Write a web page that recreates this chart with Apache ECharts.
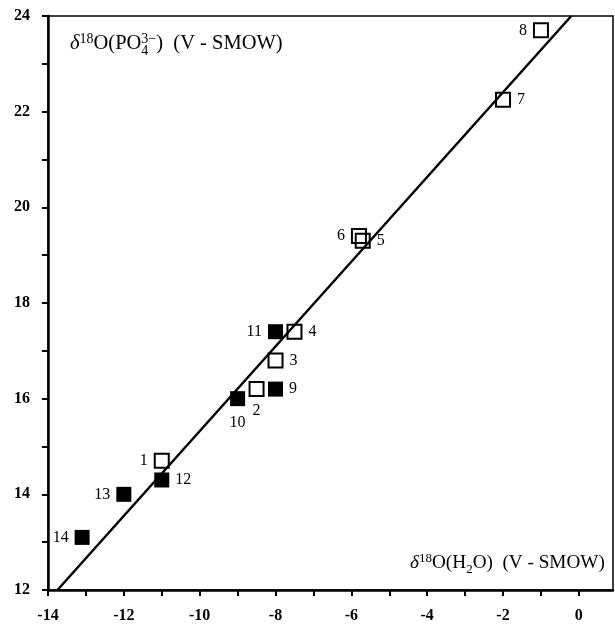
<!DOCTYPE html>
<html>
<head>
<meta charset="utf-8">
<script src="https://cdn.jsdelivr.net/npm/echarts@6/dist/echarts.min.js"></script>
<style>
html,body{margin:0;padding:0;background:#fff;}
#chart{width:615px;height:633px;}
</style>
</head>
<body>
<div id="chart"></div>
<script>
// ---- data ----
var openIds = [1, 2, 3, 4, 5, 6, 7, 8];
var openX   = [-11, -8.5, -8, -7.5, -5.7, -5.8, -2, -1];
var openY   = [14.7, 16.2, 16.8, 17.4, 19.3, 19.4, 22.25, 23.7];

var filledIds = [9, 10, 11, 12, 13, 14];
var filledX   = [-8, -9, -8, -11, -12, -13.1];
var filledY   = [16.2, 16.0, 17.4, 14.3, 14.0, 13.1];

var fitLineX = [-13.75, -0.2];
var fitLineY = [12, 24];

var xTicks = [-14, -12, -10, -8, -6, -4, -2, 0];
var yTicks = [12, 14, 16, 18, 20, 22, 24];

// label side per point id (layout only)
var labelSide = {1:'left',2:'bottom',3:'right',4:'right',5:'right',6:'left',7:'right',8:'left',
                 9:'right',10:'bottom',11:'left',12:'right',13:'left',14:'left'};
var labelDist = {2:6,10:9};

var FONT = '"Liberation Serif", "Times New Roman", serif';

function pts(ids, xs, ys) {
  return ids.map(function (id, i) {
    var side = labelSide[id];
    return {
      value: [xs[i], ys[i]],
      name: String(id),
      label: { position: side, distance: labelDist[id] || 6 }
    };
  });
}

var chart = echarts.init(document.getElementById('chart'));

var grid = { left: 48, right: 2, top: 16, bottom: 43 };

// ---- rich title builder ----
var ctx = document.createElement('canvas').getContext('2d');
function measure(t, size, italic) {
  ctx.font = (italic ? 'italic ' : '') + size + 'px ' + FONT;
  return ctx.measureText(t).width;
}
function buildTitle(pieces, left, baseline, targetW) {
  function layout(S) {
    var s = Math.round(S * 0.66);
    var x = 0, out = [];
    pieces.forEach(function (p) {
      var size = p.small ? s : S;
      var w = measure(p.t, size, p.italic);
      var dy = p.shift === 'sup' ? -S * 0.38 : (p.shift === 'sub' ? S * 0.22 : 0);
      out.push({ t: p.t, x: x, size: size, italic: p.italic, dy: dy });
      if (!p.noAdvance) x += w;
    });
    return { items: out, width: x };
  }
  var S = 18;
  var L = layout(S);
  S = S * targetW / L.width;
  L = layout(S);
  return L.items.map(function (it) {
    return {
      type: 'text',
      x: left + it.x,
      y: baseline + it.dy,
      style: {
        text: it.t,
        font: (it.italic ? 'italic ' : '') + it.size.toFixed(1) + 'px ' + FONT,
        fill: '#000',
        textAlign: 'left',
        textVerticalAlign: 'bottom'
      },
      z: 10
    };
  });
}

var topTitle = buildTitle([
  { t: 'δ', italic: true },
  { t: '18', small: true, shift: 'sup' },
  { t: 'O(PO' },
  { t: '4', small: true, shift: 'sub', noAdvance: true },
  { t: '3', small: true, shift: 'sup' },
  { t: '\u2212', small: true, shift: 'sup' },
  { t: ')  (V - SMOW)' }
], 70, 54, 212);

var bottomTitle = buildTitle([
  { t: 'δ', italic: true },
  { t: '18', small: true, shift: 'sup' },
  { t: 'O(H' },
  { t: '2', small: true, shift: 'sub' },
  { t: 'O)  (V - SMOW)' }
], 410, 572, 195);

var tickLabelStyle = { fontFamily: FONT, fontSize: 16, fontWeight: 'bold', color: '#000' };

var option = {
  animation: false,
  backgroundColor: '#fff',
  grid: Object.assign({ show: true, borderColor: '#000', borderWidth: 1.5, backgroundColor: 'transparent' }, grid),
  xAxis: {
    type: 'value', min: -14, max: 0.9, interval: 1,
    axisLine: { show: true, onZero: false, lineStyle: { color: '#000', width: 2.5 } },
    axisTick: { show: true, inside: false, length: 6, lineStyle: { color: '#000', width: 2 } },
    axisLabel: Object.assign({
      margin: 18, showMaxLabel: false,
      formatter: function (v) { return xTicks.indexOf(v) >= 0 ? String(v) : ''; }
    }, tickLabelStyle),
    splitLine: { show: false }
  },
  yAxis: {
    type: 'value', min: 12, max: 24, interval: 1,
    axisLine: { show: true, onZero: false, lineStyle: { color: '#000', width: 2.5 } },
    axisTick: { show: true, inside: false, length: 6, lineStyle: { color: '#000', width: 2 } },
    axisLabel: Object.assign({
      margin: 18,
      formatter: function (v) { return yTicks.indexOf(v) >= 0 ? String(v) : ''; }
    }, tickLabelStyle),
    splitLine: { show: false }
  },
  series: [
    {
      type: 'line',
      data: fitLineX.map(function (x, i) { return [x, fitLineY[i]]; }),
      symbol: 'none',
      lineStyle: { color: '#000', width: 2.5 },
      z: 2,
      silent: true
    },
    {
      type: 'scatter',
      data: pts(openIds, openX, openY),
      symbol: 'rect',
      symbolSize: 14,
      itemStyle: { color: 'rgba(0,0,0,0)', borderColor: '#000', borderWidth: 2, opacity: 1 },
      label: { show: true, formatter: '{b}', fontFamily: FONT, fontSize: 16, color: '#000' },
      z: 3
    },
    {
      type: 'scatter',
      data: pts(filledIds, filledX, filledY),
      symbol: 'rect',
      symbolSize: 15,
      itemStyle: { color: '#000', borderColor: '#000', borderWidth: 0, opacity: 1 },
      label: { show: true, formatter: '{b}', fontFamily: FONT, fontSize: 16, color: '#000' },
      z: 4
    }
  ],
  graphic: topTitle.concat(bottomTitle)
};
chart.setOption(option);
</script>
</body>
</html>
